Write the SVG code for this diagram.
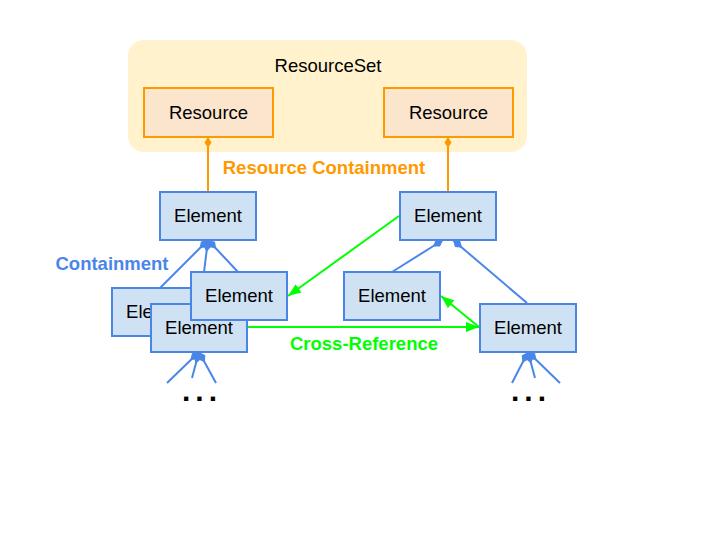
<svg xmlns="http://www.w3.org/2000/svg" width="720" height="540" viewBox="0 0 720 540">
<style>
text{font-family:"Liberation Sans",Arial,sans-serif;font-size:18.5px;text-anchor:middle;fill:#000}
.el{fill:#cfe2f3;stroke:#4a86e8;stroke-width:2}
.res{fill:#fce5cd;stroke:#ff9900;stroke-width:2}
.set{fill:#fff2cc;stroke:none}
.bl{stroke:#4a86e8;stroke-width:2;fill:none;marker-start:url(#dB)}
.or{stroke:#ff9900;stroke-width:2;fill:none;marker-start:url(#dO)}
.gr{stroke:#00ff00;stroke-width:2;fill:none;marker-end:url(#aG)}
.lbl{font-weight:bold}
.dots{font-weight:bold;font-size:30px;letter-spacing:5px;text-anchor:start}
</style>
<defs>
<marker id="dB" markerUnits="userSpaceOnUse" markerWidth="12" markerHeight="8" refX="0" refY="4" orient="auto" overflow="visible"><path d="M0,4 L6,0 L12,4 L6,8 z" fill="#4a86e8"/></marker>
<marker id="dO" markerUnits="userSpaceOnUse" markerWidth="11" markerHeight="7" refX="0" refY="3.5" orient="auto" overflow="visible"><path d="M0,3.5 L5.5,0 L11,3.5 L5.5,7 z" fill="#ff9900"/></marker>
<marker id="aG" markerUnits="userSpaceOnUse" markerWidth="13" markerHeight="10" refX="13" refY="5" orient="auto" overflow="visible"><path d="M0,0 L13,5 L0,10 z" fill="#00ff00"/></marker>
</defs>
<g id="resourceSet">
<rect class="set" x="128" y="40" width="399" height="112" rx="16"/>
<text x="328" y="72">ResourceSet</text>
</g>
<g id="resource1">
<rect class="res" x="144" y="88" width="129" height="49"/>
<text x="208.5" y="119">Resource</text>
</g>
<g id="resource2">
<rect class="res" x="384" y="88" width="129" height="49"/>
<text x="448.5" y="119">Resource</text>
</g>
<g id="connectors">
<line class="or" x1="208" y1="137" x2="208" y2="192"/>
<line class="or" x1="448" y1="137" x2="448" y2="192"/>
<line class="bl" x1="208" y1="240" x2="160" y2="288"/>
<line class="bl" x1="208" y1="240" x2="204" y2="272"/>
<line class="bl" x1="208" y1="240" x2="238" y2="272"/>
<line class="bl" x1="443" y1="240" x2="392" y2="272"/>
<line class="bl" x1="453" y1="240" x2="527" y2="303"/>
<line class="bl" x1="199" y1="352" x2="167" y2="383"/>
<line class="bl" x1="199" y1="352" x2="192" y2="378"/>
<line class="bl" x1="199" y1="352" x2="216" y2="383"/>
<line class="bl" x1="528" y1="352" x2="512" y2="383"/>
<line class="bl" x1="528" y1="352" x2="535" y2="378"/>
<line class="bl" x1="528" y1="352" x2="560" y2="383"/>
<line class="gr" x1="399" y1="216" x2="288" y2="296"/>
<line class="gr" x1="247" y1="327" x2="479" y2="327"/>
<line class="gr" x1="479" y1="327" x2="441" y2="296"/>
</g>
<g id="labels">
<text class="lbl" x="324" y="174" style="fill:#ff9900">Resource Containment</text>
<text class="lbl" x="112" y="270" style="fill:#4a86e8">Containment</text>
<text class="lbl" x="364" y="350" style="fill:#00ff00">Cross-Reference</text>
<text class="dots" x="182" y="401">...</text>
<text class="dots" x="511" y="401">...</text>
</g>
<g id="element1">
<rect class="el" x="160" y="192" width="96" height="48"/>
<text x="208" y="222">Element</text>
</g>
<g id="element2">
<rect class="el" x="400" y="192" width="96" height="48"/>
<text x="448" y="222">Element</text>
</g>
<g id="element3">
<rect class="el" x="112" y="288" width="96" height="48"/>
<text x="160" y="318">Element</text>
</g>
<g id="element4">
<rect class="el" x="151" y="304" width="96" height="48"/>
<text x="199" y="334">Element</text>
</g>
<g id="element5">
<rect class="el" x="191" y="272" width="96" height="48"/>
<text x="239" y="302">Element</text>
</g>
<g id="element6">
<rect class="el" x="344" y="272" width="96" height="48"/>
<text x="392" y="302">Element</text>
</g>
<g id="element7">
<rect class="el" x="480" y="304" width="96" height="48"/>
<text x="528" y="334">Element</text>
</g>
</svg>
